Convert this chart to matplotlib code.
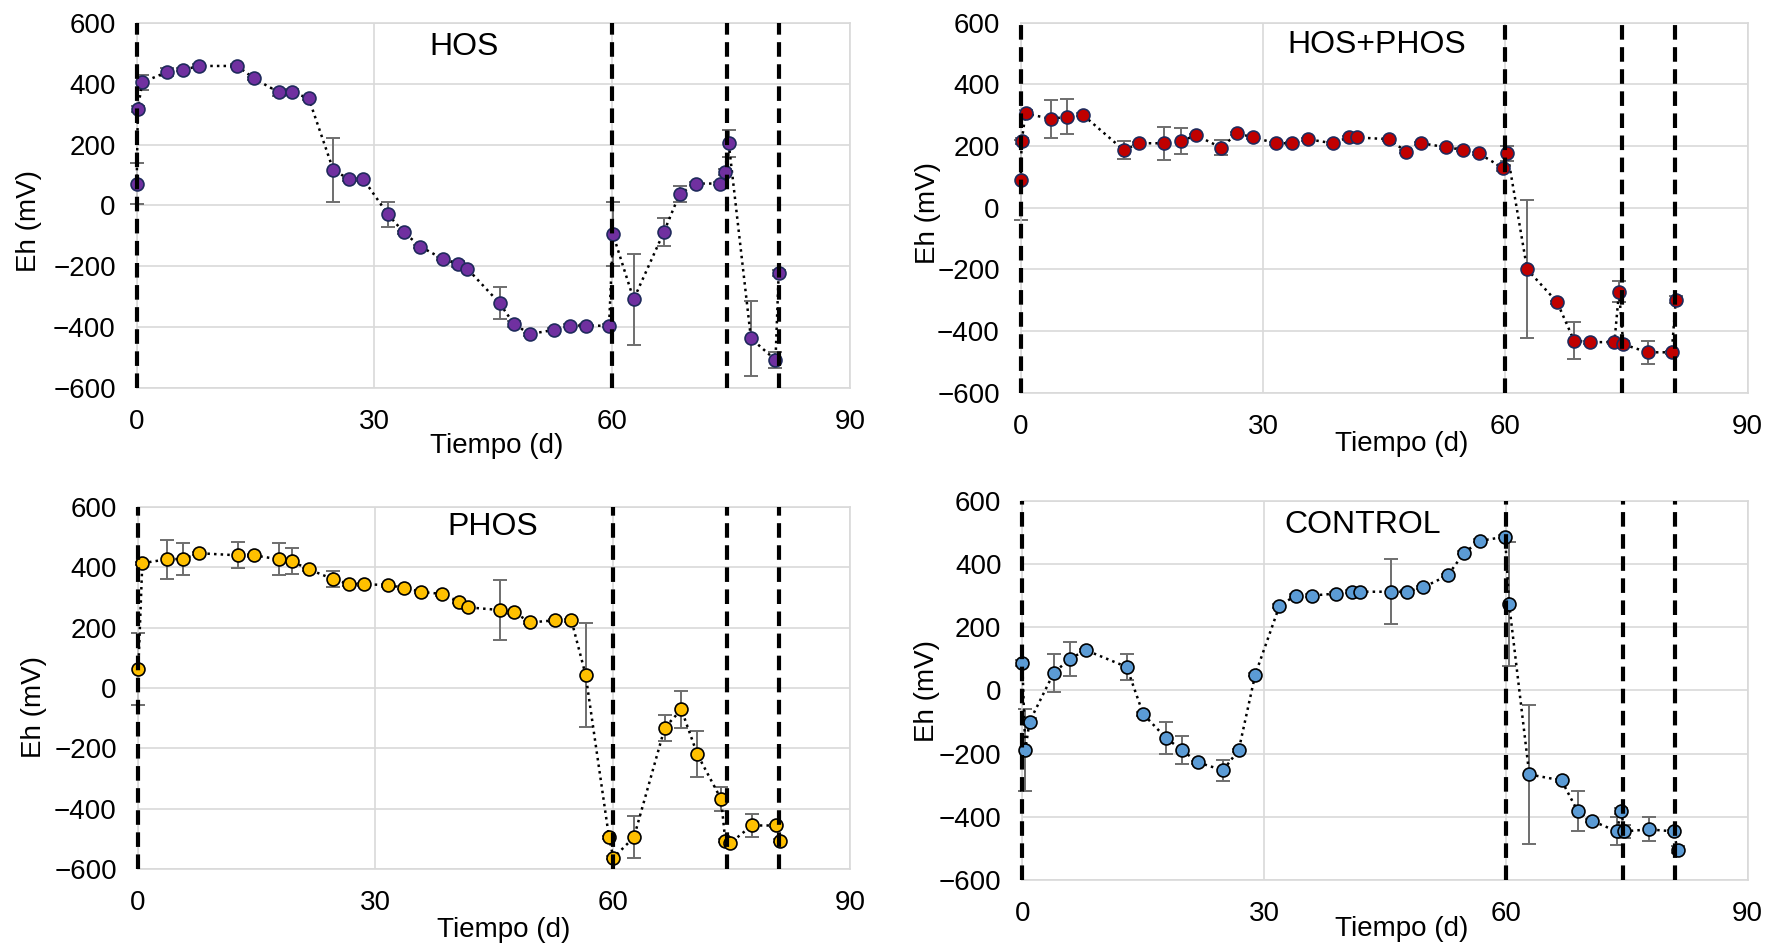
import matplotlib
matplotlib.use("Agg")
import matplotlib.pyplot as plt

plt.rcParams['font.family'] = ['Liberation Sans', 'DejaVu Sans']

# ---------------- data ----------------
hos_day = [0, 0.15, 0.7, 3.8, 5.8, 7.9, 12.7, 14.8, 17.9, 19.6, 21.7, 24.8, 26.8, 28.6,
           31.7, 33.7, 35.8, 38.6, 40.6, 41.7, 45.8, 47.6, 49.6, 52.7, 54.7, 56.7, 59.6,
           60.1, 62.7, 66.5, 68.5, 70.6, 73.6, 74.2, 74.7, 77.5, 80.6, 81.0]
hos_eh = [72, 318, 404, 438, 445, 458, 458, 417, 372, 372, 352, 117, 86, 86,
          -29, -88, -135, -175, -193, -207, -321, -389, -422, -408, -394, -394, -395,
          -95, -308, -88, 38, 72, 72, 111, 204, -436, -507, -222]
hos_err = [68, 10, 25, 12, 5, 5, 5, 5, 12, 10, 5, 105, 5, 5,
           41, 5, 5, 5, 10, 5, 53, 10, 5, 5, 5, 5, 5,
           105, 149, 46, 25, 5, 5, 10, 45, 124, 27, 10]

hp_day = [0, 0.12, 0.6, 3.7, 5.7, 7.7, 12.75, 14.7, 17.8, 19.8, 21.7, 24.8, 26.8, 28.8,
          31.6, 33.6, 35.6, 38.6, 40.6, 41.6, 45.6, 47.7, 49.6, 52.7, 54.7, 56.7, 59.7,
          60.25, 62.7, 66.4, 68.5, 70.5, 73.5, 74.07, 74.6, 77.6, 80.6, 81.1]
hp_eh = [90, 215, 306, 288, 295, 301, 187, 209, 209, 215, 235, 195, 241, 228,
         209, 209, 222, 209, 228, 228, 222, 182, 209, 196, 188, 176, 129,
         176, -200, -306, -431, -436, -436, -272, -443, -469, -469, -298]
hp_err = [130, 10, 10, 62, 56, 5, 30, 5, 53, 42, 5, 25, 5, 5,
          5, 5, 5, 5, 5, 5, 5, 5, 5, 5, 5, 5, 10,
          25, 224, 5, 59, 5, 5, 35, 10, 38, 5, 10]

phos_day = [0.08, 0.58, 3.7, 5.7, 7.75, 12.7, 14.7, 17.8, 19.5, 21.6, 24.7, 26.7, 28.6,
            31.6, 33.6, 35.8, 38.5, 40.6, 41.7, 45.8, 47.6, 49.6, 52.7, 54.8, 56.6,
            59.55, 60.1, 62.7, 66.6, 68.7, 70.7, 73.7, 74.25, 74.85, 77.6, 80.7, 81.2]
phos_eh = [63, 413, 426, 427, 446, 439, 439, 426, 419, 393, 360, 344, 344,
           340, 332, 318, 311, 286, 267, 258, 250, 217, 224, 224, 43,
           -494, -562, -494, -131, -71, -219, -367, -506, -514, -455, -455, -506]
phos_err = [120, 5, 65, 53, 5, 43, 5, 53, 43, 5, 26, 5, 5,
            5, 5, 5, 5, 5, 5, 100, 5, 5, 5, 5, 171,
            5, 5, 70, 43, 61, 77, 41, 5, 10, 38, 5, 5]

ctrl_day = [0, 0.37, 0.9, 3.9, 5.9, 7.9, 12.95, 15.0, 17.8, 19.8, 21.8, 24.9, 26.85, 28.9,
            31.9, 33.9, 35.9, 38.9, 40.9, 41.9, 45.7, 47.7, 49.75, 52.8, 54.8, 56.8, 59.9,
            60.4, 62.9, 66.9, 68.9, 70.7, 73.75, 74.3, 74.7, 77.75, 80.8, 81.3]
ctrl_eh = [87, -189, -99, 55, 100, 127, 74, -75, -150, -189, -228, -253, -189, 50,
           267, 300, 300, 306, 312, 312, 312, 312, 326, 364, 435, 473, 486,
           273, -266, -285, -382, -413, -446, -382, -446, -440, -446, -504]
ctrl_err = [10, 130, 10, 61, 54, 5, 42, 5, 51, 45, 5, 33, 5, 5,
            5, 5, 5, 5, 5, 5, 103, 5, 5, 5, 5, 5, 5,
            196, 221, 5, 62, 5, 44, 10, 20, 38, 5, 10]

event_days = [0, 60, 74.5, 81]
x_ticks = [0, 30, 60, 90]
y_ticks = [-600, -400, -200, 0, 200, 400, 600]

panels = [
    # name, day, eh, err, face, edge, axes px (l, r, t, b), title pos, ylabel pos, xlabel pos
    ("HOS", hos_day, hos_eh, hos_err, "#7030A0", "#1F2A5C",
     (136.7, 850, 22.7, 388.3), (0.459, 0.934), (-0.151, 0.458), (0.505, -0.158)),
    ("HOS+PHOS", hp_day, hp_eh, hp_err, "#C00000", "#1F2A5C",
     (1020.7, 1747.7, 22.7, 392.7), (0.490, 0.940), (-0.127, 0.487), (0.524, -0.139)),
    ("PHOS", phos_day, phos_eh, phos_err, "#FFC000", "#000000",
     (137.7, 850, 506.7, 869.3), (0.498, 0.945), (-0.145, 0.448), (0.514, -0.167)),
    ("CONTROL", ctrl_day, ctrl_eh, ctrl_err, "#5B9BD5", "#000000",
     (1022.3, 1747.7, 500.7, 880), (0.469, 0.936), (-0.131, 0.499), (0.523, -0.129)),
]

W, H = 1779, 949
fig = plt.figure(figsize=(W / 100, H / 100), dpi=100)

for name, day, eh, err, face, edge, (l, r, t, b), tpos, ylpos, xlpos in panels:
    ax = fig.add_axes([l / W, 1 - b / H, (r - l) / W, (b - t) / H])
    ax.set_xlim(0, 90)
    ax.set_ylim(-600, 600)
    ax.set_xticks(x_ticks)
    ax.set_yticks(y_ticks)
    ax.grid(True, color="#D9D9D9", lw=1.2, zorder=0)
    ax.set_axisbelow(True)
    for s in ax.spines.values():
        s.set_color("#D9D9D9")
        s.set_linewidth(1.2)
    ax.tick_params(length=0, labelsize=20, pad=15, colors="black")

    ax.errorbar(day, eh, yerr=err, fmt="none", ecolor="#6E6E6E", elinewidth=1.4,
                capsize=5, capthick=1.4, zorder=2, clip_on=False)
    ax.plot(day, eh, linestyle=":", color="black", lw=1.8, zorder=3, clip_on=False)
    ax.plot(day, eh, linestyle="none", marker="o", markersize=9.3,
            markerfacecolor=face, markeredgecolor=edge, markeredgewidth=1.2,
            zorder=4, clip_on=False)
    for d in event_days:
        ax.axvline(d, color="black", lw=3, linestyle=(0, (3.5, 1.8)), zorder=5,
                   clip_on=False)

    ax.text(tpos[0], tpos[1], name, transform=ax.transAxes, ha="center", va="center",
            fontsize=23)
    ax.set_ylabel("Eh (mV)", fontsize=20)
    ax.yaxis.label.set_va("center")
    ax.yaxis.set_label_coords(*ylpos)
    ax.set_xlabel("Tiempo (d)", fontsize=20)
    ax.xaxis.label.set_va("center")
    ax.xaxis.set_label_coords(*xlpos)

fig.savefig("out.png", dpi=100)
